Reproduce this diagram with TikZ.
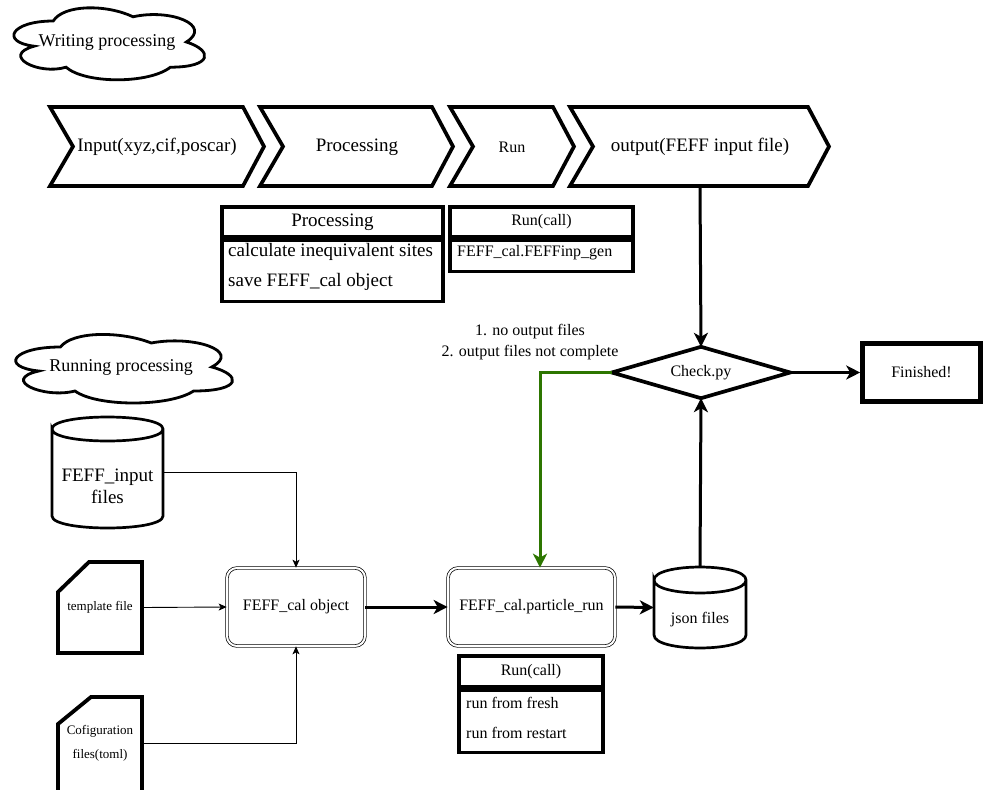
\documentclass[tikz,border=0pt]{standalone}
\usepackage{fontspec}
\setmainfont{Liberation Serif}
\usetikzlibrary{arrows.meta}
\definecolor{grn}{RGB}{45,118,0}
\tikzset{
  t19/.style={font=\fontsize{19}{22}\selectfont},
  t18/.style={font=\fontsize{18}{21}\selectfont},
  t16/.style={font=\fontsize{16}{19}\selectfont},
  t13/.style={font=\fontsize{13}{16}\selectfont},
  box/.style={rectangle, inner sep=0pt},
  chev/.style={draw, line width=3.7pt, line join=miter},
  tbl/.style={draw, line width=3.5pt, rectangle, inner sep=0pt},
  cyl/.style={draw, line width=2.7pt},
  card/.style={draw, line width=3.8pt, line join=miter},
  cloudline/.style={draw, line width=2.8pt},
  dbl/.style={draw, double, double distance=2pt, line width=0.7pt, rounded corners=10pt, rectangle, inner sep=0pt, minimum width=138pt, minimum height=78pt},
  bigarr/.style={line width=3pt, -{Stealth[length=14pt,width=14pt,inset=4pt]}},
  smallarr/.style={line width=0.9pt, -{Stealth[length=8pt,width=7pt,inset=2pt]}},
}
\newcommand{\cloudpath}{(0.25,0.25) .. controls (0.05,0.25) and (0,0.5) .. (0.16,0.55)
  .. controls (0,0.66) and (0.18,0.9) .. (0.31,0.8)
  .. controls (0.4,1) and (0.7,1) .. (0.8,0.8)
  .. controls (1,0.8) and (1,0.6) .. (0.875,0.5)
  .. controls (1,0.3) and (0.8,0.1) .. (0.625,0.2)
  .. controls (0.5,0.05) and (0.3,0.05) .. (0.25,0.25) -- cycle}
\begin{document}
\begin{tikzpicture}[x=1pt,y=-1pt]
\useasboundingbox (0,0) rectangle (984,789);

% clouds
\begin{scope}[shift={(0,0)}, x=213pt, y=-84pt]
  \draw[cloudline] \cloudpath;
\end{scope}
\node[t18] (c1t) at (107,42) {Writing processing};
\begin{scope}[shift={(0,327)}, x=242pt, y=-80pt]
  \draw[cloudline] \cloudpath;
\end{scope}
\node[t18] (c2t) at (121,367) {Running processing};

% chevrons
\draw[chev] (50,107) -- (243,107) -- (264,146.5) -- (243,186) -- (50,186) -- (73,146.5) -- cycle;
\draw[chev] (260,107) -- (432,107) -- (453,146.5) -- (432,186) -- (260,186) -- (283,146.5) -- cycle;
\draw[chev] (450,107) -- (553,107) -- (574,146.5) -- (553,186) -- (450,186) -- (473,146.5) -- cycle;
\draw[chev] (570,107) -- (808,107) -- (829,146.5) -- (808,186) -- (570,186) -- (593,146.5) -- cycle;
\node[box,t19] (inp) at (157,147) {Input(xyz,cif,poscar)};
\node[box,t19] (proc) at (357,147) {Processing};
\node[box,t16] (run) at (512,147) {Run};
\node[box,t19,minimum width=250pt,minimum height=79pt] (out) at (700,146.5) {output(FEFF input file)};

% processing table
\node[tbl,t19,minimum width=221pt,minimum height=30pt] (ph) at (332.5,222) {Processing};
\node[tbl,minimum width=221pt,minimum height=61pt,anchor=north] (pb) at (ph.south) {};
\node[t19,anchor=west,inner sep=0pt] (pr1) at (228,252) {calculate inequivalent sites};
\node[t19,anchor=west,inner sep=0pt] (pr2) at (228,282) {save FEFF\_cal object};

% run(call) table top
\node[tbl,t16,minimum width=183pt,minimum height=30pt] (rh) at (541.5,222) {Run(call)};
\node[tbl,minimum width=183pt,minimum height=31pt,anchor=north] (rb) at (rh.south) {};
\node[t16,anchor=west,inner sep=0pt] (rr1) at (457,253) {FEFF\_cal.FEFFinp\_gen};

% check diamond
\node[box,t16,minimum width=178pt,minimum height=51pt] (chk) at (701,372.5) {Check.py};
\draw[line width=3.7pt, line join=miter] (chk.west) -- (chk.north) -- (chk.east) -- (chk.south) -- cycle;

% finished
\node[draw,line width=4.6pt,rectangle,inner sep=0pt,minimum width=118pt,minimum height=58pt,t16] (fin2) at (921.5,372.5) {Finished!};

% labels
\node[t16,align=center,inner sep=0pt] (lbl) at (530,342) {1. no output files\\[2pt]2. output files not complete};

% FEFF_input cylinder
\node[box,minimum width=111pt,minimum height=111pt] (fin) at (107.5,472.5) {};
\node[t19,align=center,inner sep=0pt] (fint) at (107.5,486) {FEFF\_input\\files};
\draw[cyl] (52,429) .. controls (52,413) and (163,413) .. (163,429)
  .. controls (163,445) and (52,445) .. (52,429) -- (52,516)
  .. controls (52,532) and (163,532) .. (163,516) -- (163,429);

% json cylinder
\node[box,minimum width=92pt,minimum height=81pt] (json) at (700,607.5) {};
\node[t16,inner sep=0pt] (jsont) at (700,620) {json files};
\draw[cyl] (654,580) .. controls (654,562.7) and (746,562.7) .. (746,580)
  .. controls (746,597.3) and (654,597.3) .. (654,580) -- (654,635)
  .. controls (654,652.3) and (746,652.3) .. (746,635) -- (746,580);

% cards
\node[box,t13,minimum width=84pt,minimum height=91pt] (tpl) at (100,607.5) {template file};
\draw[card] (58,592) -- (89,562) -- (142,562) -- (142,653) -- (58,653) -- cycle;
\node[box,t13,align=center,minimum width=84pt,minimum height=92pt] (cfg) at (100,743) {Cofiguration\\[8pt]files(toml)};
\draw[card] (58,724) -- (91,697) -- (142,697) -- (142,800) -- (58,800) -- cycle;

% FEFF_cal object and particle_run
\node[dbl,t16] (obj) at (296,607) {FEFF\_cal object};
\node[dbl,t16,minimum width=167pt] (prun) at (531.5,607) {FEFF\_cal.particle\_run};

% run(call) table bottom
\node[tbl,t16,minimum width=144pt,minimum height=31pt] (bh) at (531,671.5) {Run(call)};
\node[tbl,minimum width=144pt,minimum height=62pt,anchor=north] (bb) at (bh.south) {};
\node[t16,anchor=west,inner sep=0pt] (br1) at (466,703) {run from fresh};
\node[t16,anchor=west,inner sep=0pt] (br2) at (466,733) {run from restart};

% connectors
\draw[bigarr] (out.south) -- (chk.north);
\draw[bigarr] (json.north) -- (chk.south);
\draw[bigarr] (chk.east) -- (fin2.west);
\draw[bigarr, grn] (chk.west) -| ([xshift=8.5pt]prun.north);
\draw[smallarr] (fin.east) -| (obj.north);
\draw[smallarr] (tpl.east) -- (obj.west);
\draw[smallarr] (cfg.east) -| (obj.south);
\draw[bigarr] (obj.east) -- (prun.west);
\draw[bigarr] (prun.east) -- (json.west);
\end{tikzpicture}
\end{document}
